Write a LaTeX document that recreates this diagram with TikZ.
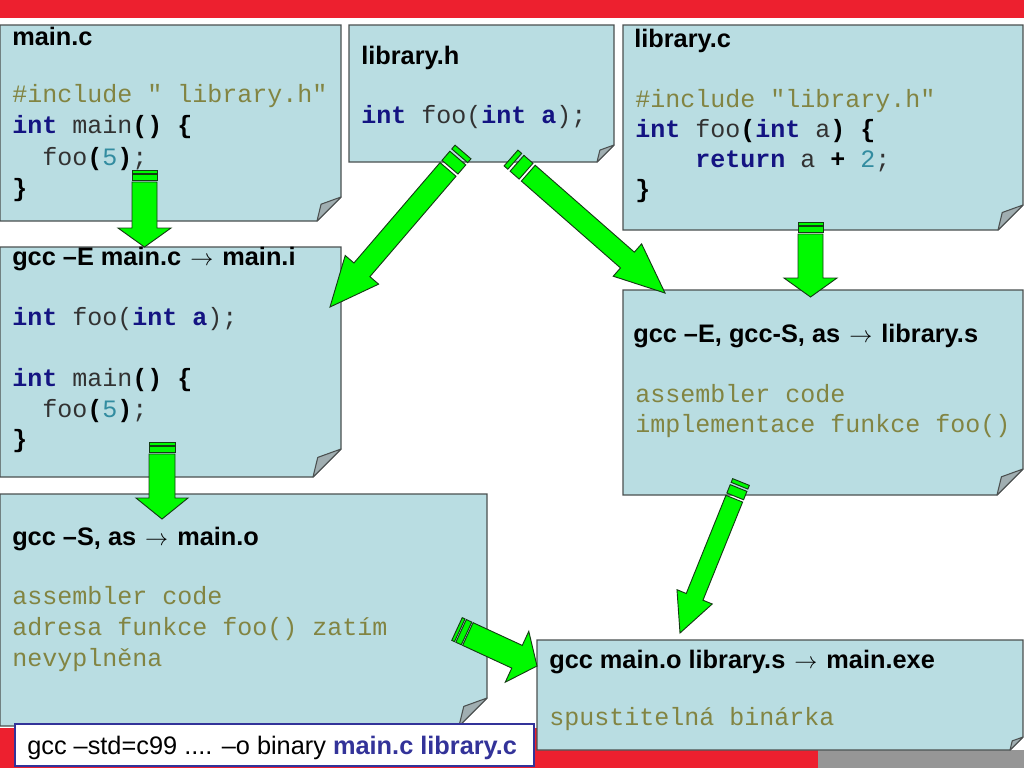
\documentclass[tikz,border=0pt]{standalone}
\usepackage{fontspec}
\setmainfont{Liberation Sans}
\setsansfont{Liberation Sans}
\setmonofont{Liberation Mono}
\usetikzlibrary{calc}
\definecolor{barred}{RGB}{237,32,47}
\definecolor{bargray}{RGB}{150,150,150}
\definecolor{notefill}{RGB}{185,221,226}
\definecolor{noteline}{RGB}{75,80,80}
\definecolor{flapfill}{RGB}{160,174,177}
\definecolor{arrgreen}{RGB}{0,250,0}
\definecolor{arrline}{RGB}{20,60,20}
\definecolor{kwblue}{RGB}{20,20,130}
\definecolor{olivetxt}{RGB}{130,132,66}
\definecolor{numteal}{RGB}{50,140,160}
\definecolor{codegray}{RGB}{50,50,50}
\definecolor{boxblue}{RGB}{51,51,153}
\newcommand\ckw[1]{\textcolor{kwblue}{\bfseries #1}}
\newcommand\cbk[1]{\textcolor{black}{\bfseries #1}}
\newcommand\cnum[1]{\textcolor{numteal}{#1}}
\newcommand\cpp[1]{\textcolor{olivetxt}{#1}}
\newcommand\tarr{\hspace{1.5pt}$\rightarrow$\hspace{1.5pt}}
\tikzset{
  notebody/.style={fill=notefill, draw=noteline, line width=0.8pt, line join=miter},
  noteflap/.style={fill=flapfill, draw=noteline, line width=0.8pt, line join=round},
  arrowst/.style={fill=arrgreen, draw=arrline, line width=0.7pt, line join=miter},
  title/.style={anchor=base west, inner sep=0pt, font=\sffamily\bfseries\fontsize{19}{21}\selectfont},
  code/.style={anchor=base west, inner sep=0pt, font=\ttfamily\fontsize{18.75}{20}\selectfont, text=codegray},
}
% #1 name, #2 x1, #3 y1, #4 x2, #5 y2, #6 fold size
\newcommand\notebox[6]{%
  \path (#2,#3) coordinate (#1-nw) (#4,#5) coordinate (#1-se);
  \filldraw[notebody] (#2,#3) -- (#4,#3) -- (#4,#5-#6) -- (#4-#6,#5) -- (#2,#5) -- cycle;
  \filldraw[noteflap] (#4,#5-#6) -- (#4-0.83*#6,#5-0.7*#6) -- (#4-#6,#5) -- cycle;
}
% #1 tail, #2 tip, #3 half shaft, #4 half head, #5 head length, #6 stripe1, #7 stripe2, #8 gap
\newcommand\blockarrow[8]{%
  \pgfpointdiff{\pgfpointanchor{#1}{center}}{\pgfpointanchor{#2}{center}}%
  \pgfgetlastxy{\bax}{\bay}%
  \pgfmathsetmacro\baang{atan2(\bay,\bax)}%
  \pgfmathsetmacro\balen{veclen(\bax,\bay)/0.75}%
  \begin{scope}[shift={(#1)}, rotate=\baang, x=0.75pt, y=0.75pt]
    \filldraw[arrowst] (0,-#3) rectangle (#6,#3);
    \filldraw[arrowst] ({#6+#8},-#3) rectangle ({#6+#8+#7},#3);
    \filldraw[arrowst] ({#6+2*#8+#7},-#3) -- ({\balen-#5},-#3) -- ({\balen-#5},-#4)
      -- (\balen,0) -- ({\balen-#5},#4) -- ({\balen-#5},#3) -- ({#6+2*#8+#7},#3) -- cycle;
  \end{scope}}
\begin{document}
\begin{tikzpicture}[x=0.75pt, y=-0.75pt]
\useasboundingbox (0,0) rectangle (1024,768);
\fill[white] (0,0) rectangle (1024,768);
% bands
\fill[barred] (0,0) rectangle (1024,18);
\fill[barred] (0,728) rectangle (818,768);
\fill[bargray] (818,750) rectangle (1024,768);
% boxes
\notebox{mainc}{0}{25}{341}{221}{24}
\notebox{libh}{349}{25}{614}{162}{17}
\notebox{libc}{623}{25}{1023}{230}{25}
\notebox{maini}{0}{247}{341}{477}{28}
\notebox{libs}{623}{290}{1023}{495}{26}
\notebox{maino}{0}{494}{487}{726}{28}
\notebox{mainexe}{537}{640}{1023}{750}{13}
\filldraw[fill=white, draw=boxblue, line width=1.6pt] (15,724) rectangle (534,766);
% main.c
\node[title] (t-mainc) at (12,45) {main.c};
\node[code] (c-mainc-1) at (12,102) {\cpp{\#include " library.h"}};
\node[code] (c-mainc-2) at (12,133) {\ckw{int} main\cbk{()} \cbk{\{}};
\node[code] (c-mainc-3) at (12,165) {\phantom{xx}foo\cbk{(}\cnum{5}\cbk{)};};
\node[code] (c-mainc-4) at (12,196) {\cbk{\}}};
% library.h
\node[title] (t-libh) at (361,64) {library.h};
\node[code] (c-libh-1) at (361,123) {\ckw{int} foo(\ckw{int a});};
% library.c
\node[title] (t-libc) at (634,47) {library.c};
\node[code] (c-libc-1) at (635,107) {\cpp{\#include "library.h"}};
\node[code] (c-libc-2) at (635,137) {\ckw{int} foo\cbk{(}\ckw{int} a\cbk{)} \cbk{\{}};
\node[code] (c-libc-3) at (635,167) {\phantom{xxxx}\ckw{return} a \cbk{+} \cnum{2};};
\node[code] (c-libc-4) at (635,197) {\cbk{\}}};
% main.i
\node[title] (t-maini) at (12,265) {gcc –E main.c \tarr{} main.i};
\node[code] (c-maini-1) at (12,325) {\ckw{int} foo(\ckw{int a});};
\node[code] (c-maini-2) at (12,386) {\ckw{int} main\cbk{()} \cbk{\{}};
\node[code] (c-maini-3) at (12,417) {\phantom{xx}foo\cbk{(}\cnum{5}\cbk{)};};
\node[code] (c-maini-4) at (12,447) {\cbk{\}}};
% library.s
\node[title] (t-libs) at (633,342) {gcc –E, gcc-S, as \tarr{} library.s};
\node[code] (c-libs-1) at (635,402) {\cpp{assembler code}};
\node[code] (c-libs-2) at (635,432) {\cpp{implementace funkce foo()}};
% main.o
\node[title] (t-maino) at (12,545) {gcc –S, as \tarr{} main.o};
\node[code] (c-maino-1) at (12,604) {\cpp{assembler code}};
\node[code] (c-maino-2) at (12,635) {\cpp{adresa funkce foo() zatím}};
\node[code] (c-maino-3) at (12,666) {\cpp{nevyplněna}};
% main.exe
\node[title] (t-mainexe) at (549,668) {gcc main.o library.s \tarr{} main.exe};
\node[code] (c-mainexe-1) at (549,725) {\cpp{spustitelná binárka}};
% command box
\node[anchor=base west, inner sep=0pt, font=\sffamily\fontsize{19}{20}\selectfont] (cmd) at (27,754)
  {gcc –std=c99 .... –o binary \textcolor{boxblue}{\bfseries main.c library.c}};
% arrow end points
\coordinate (a1s) at (144.5,170); \coordinate (a1e) at (144.5,247);
\coordinate (a2s) at (810.5,222); \coordinate (a2e) at (810.5,297);
\coordinate (a3s) at (162,442);   \coordinate (a3e) at (162,519);
\coordinate (a4s) at (463,152);   \coordinate (a4e) at (330,307);
\coordinate (a5s) at (511,158);   \coordinate (a5e) at (665,293);
\coordinate (a6s) at (741,482);   \coordinate (a6e) at (680,633);
\coordinate (a7s) at (457,629);   \coordinate (a7e) at (537,666);
\blockarrow{a1s}{a1e}{12.5}{26.5}{19}{3}{6}{1.5}
\blockarrow{a2s}{a2e}{12.5}{26.5}{19}{3}{6}{1.5}
\blockarrow{a3s}{a3e}{13}{26}{21}{3}{6}{1.5}
\blockarrow{a4s}{a4e}{10.5}{22}{49}{5}{12}{3}
\blockarrow{a5s}{a5e}{10.5}{21.5}{50}{5}{12}{3}
\blockarrow{a6s}{a6e}{9}{19}{39}{4}{9}{2.5}
\blockarrow{a7s}{a7e}{12.5}{28}{22}{3}{6}{1.5}
\end{tikzpicture}
\end{document}
